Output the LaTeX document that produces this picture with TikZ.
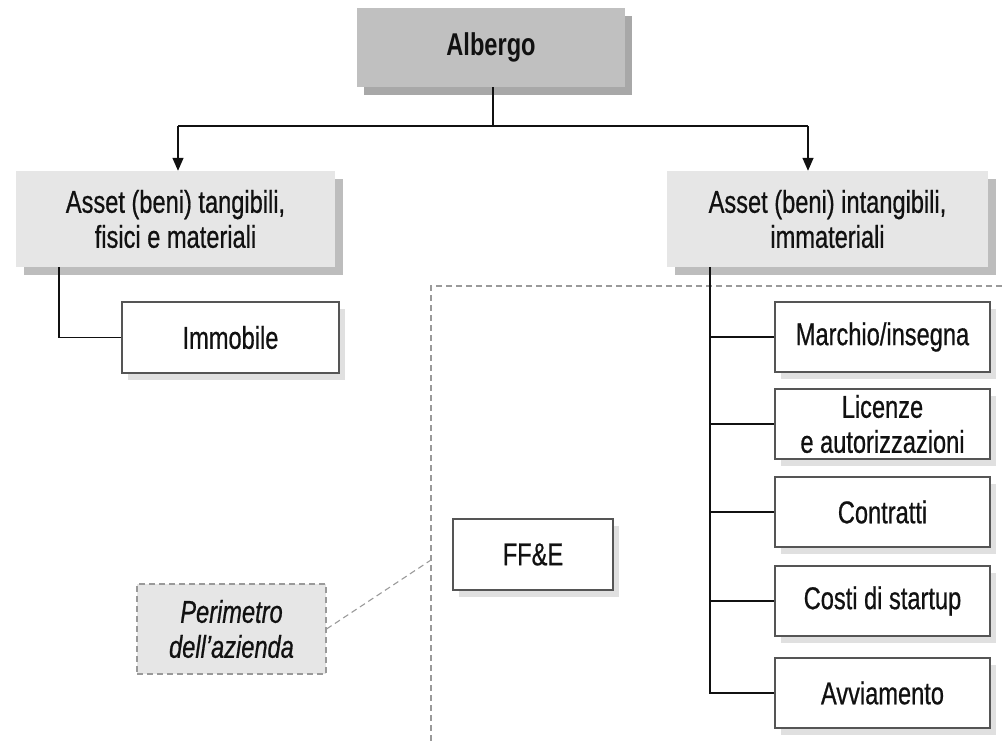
\documentclass[tikz,border=0pt]{standalone}
\usepackage{fontspec}
\setmainfont{Liberation Sans}[FakeStretch=0.75]
\newfontfamily\bodyfont{Liberation Sans}[FakeStretch=0.75,FakeBold=0.6]
\usetikzlibrary{arrows.meta,shadows}
\definecolor{topfill}{HTML}{C0C0C0}
\definecolor{topshadow}{HTML}{A8A8A8}
\definecolor{groupfill}{HTML}{E6E6E6}
\definecolor{groupshadow}{HTML}{BDBDBD}
\definecolor{leafshadow}{HTML}{E0E0E0}
\definecolor{leafborder}{HTML}{555555}
\definecolor{perim}{HTML}{9A9A9A}
\definecolor{ink}{HTML}{111111}
\begin{document}
\begin{tikzpicture}[x=1pt,y=-1pt,
  every node/.style={font=\bodyfont\fontsize{31.5}{35}\selectfont, text=ink, align=center, inner sep=0pt},
  topbox/.style={fill=topfill, draw=none, font=\normalfont\fontsize{31.5}{35}\selectfont\bfseries,
    drop shadow={fill=topshadow, opacity=1, shadow xshift=7pt, shadow yshift=-8pt}},
  groupbox/.style={fill=groupfill, draw=none,
    drop shadow={fill=groupshadow, opacity=1, shadow xshift=8pt, shadow yshift=-8pt}},
  leafbox/.style={fill=white, draw=leafborder, line width=1.1pt,
    drop shadow={fill=leafshadow, opacity=1, shadow xshift=6pt, shadow yshift=-7pt}},
  notebox/.style={fill=groupfill, draw=perim, line width=1.1pt, dash pattern=on 6pt off 4pt,
    font=\bodyfont\fontsize{31.5}{35}\selectfont\itshape},
  link/.style={draw=ink, line width=1.4pt},
  arr/.style={link, -{Triangle[width=11pt,length=13pt]}},
  fence/.style={draw=perim, line width=1.1pt, dash pattern=on 6pt off 4pt}
]
\useasboundingbox (0,0) rectangle (1002,744);

% root
\node[topbox, minimum width=268pt, minimum height=79pt] (alb) at (491,47.5) {Albergo};

% the two asset groups
\node[groupbox, minimum width=319pt, minimum height=96pt] (tang) at (175.5,219)
  {Asset (beni) tangibili,\\fisici e materiali};
\node[groupbox, minimum width=321pt, minimum height=96pt] (intang) at (827.5,219)
  {Asset (beni) intangibili,\\immateriali};

% company perimeter (drawn first so boxes sit on top)
\coordinate (pTR) at (1002,286);
\coordinate (pTL) at (431,286);
\coordinate (pBL) at (431,744);
\coordinate (pLead) at (431,560);
\draw[fence] (pTR) -- (pTL) -- (pBL);

% tangible leaf
\node[leafbox, minimum width=217pt, minimum height=71pt] (imm) at (230.5,337.5) {Immobile};

% FF&E
\node[leafbox, minimum width=160pt, minimum height=71pt] (ffe) at (533,554.5) {FF\&E};

% intangible leaves
\node[leafbox, minimum width=215pt, minimum height=70pt] (mar) at (882.5,337) {Marchio/insegna};
\node[leafbox, minimum width=215pt, minimum height=70pt] (lic) at (882.5,424) {Licenze\\e autorizzazioni};
\node[leafbox, minimum width=215pt, minimum height=70pt] (con) at (882.5,512) {Contratti};
\node[leafbox, minimum width=215pt, minimum height=70pt] (cos) at (882.5,601) {Costi di startup};
\node[leafbox, minimum width=215pt, minimum height=70pt] (avv) at (882.5,693) {Avviamento};

% perimeter label
\node[notebox, minimum width=189pt, minimum height=90pt] (per) at (231.5,629) {Perimetro\\dell’azienda};
\draw[fence] (per.east) -- (pLead);

% root split
\coordinate (split) at (493,126);
\coordinate (lArr) at (178,126);
\coordinate (rArr) at (808,126);
\draw[link] (alb.south -| split) -- (split);
\draw[link] (lArr) -- (rArr);
\draw[arr] (lArr) -- (lArr |- tang.north);
\draw[arr] (rArr) -- (rArr |- intang.north);

% tangible branch
\coordinate (tDrop) at (59,0);
\draw[link] (tDrop |- tang.south) |- (imm.west);

% intangible tree
\coordinate (iDrop) at (710,0);
\draw[link] (iDrop |- intang.south) -- (iDrop |- avv.west) -- (avv.west);
\foreach \n in {mar,lic,con,cos}
  \draw[link] (iDrop |- \n.west) -- (\n.west);
\end{tikzpicture}
\end{document}
